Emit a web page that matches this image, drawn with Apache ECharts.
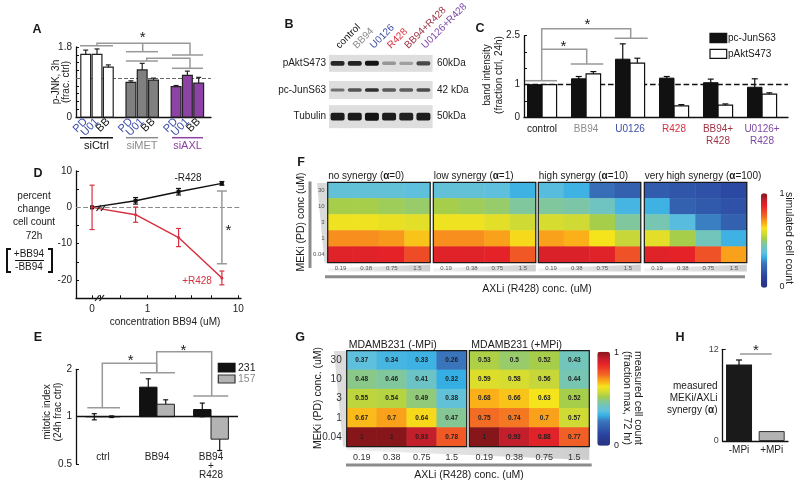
<!DOCTYPE html>
<html><head><meta charset="utf-8">
<script src="https://cdn.jsdelivr.net/npm/echarts@6/dist/echarts.min.js"></script>
<style>html,body{margin:0;padding:0;background:#fff}#c{width:800px;height:488px}</style>
</head><body><div id="c"></div>
<script>
// ================= DATA =================
const A_groups = ['siCtrl','siMET','siAXL'];
const A_treatments = ['PD','U01','BB'];
const A_values = [1.61,1.61,1.28, 0.89,1.21,0.95, 0.78,1.07,0.87];
const A_errors = [0.11,0.14,0.06, 0.04,0.17,0.05, 0.03,0.11,0.15];

const B_lanes = ['control','BB94','U0126','R428','BB94+R428','U0126+R428'];
const B_proteins = ['pAktS473','pc-JunS63','Tubulin'];
const B_sizes = ['60kDa','42 kDa','50kDa'];
const B_pAkt = [0.9,0.92,1.0,0.3,0.25,0.72];
const B_pcJun = [0.5,0.65,0.85,0.62,0.6,0.7];
const B_tubulin = [0.95,0.97,1.0,0.95,0.93,0.95];

const C_categories = ['control','BB94','U0126','R428','BB94+\nR428','U0126+\nR428'];
const C_series = ['pc-JunS63','pAktS473'];
const C_pcJun = [1.0,1.18,1.78,1.2,1.06,0.92];
const C_pcJunErr = [0,0.07,0.47,0.05,0.11,0.26];
const C_pAkt = [1.0,1.33,1.66,0.35,0.37,0.71];
const C_pAktErr = [0,0.07,0.15,0.04,0.04,0.04];

const D_conc = [0,0.74,2.2,6.6];
const D_minusR428 = [0,1.8,4.3,6.6];
const D_minusErr = [0,0.9,0.9,0.5];
const D_plusR428 = [0,-2.0,-8.3,-19.4];
const D_plusErr = [6.1,2.1,2.5,1.9];
const D_sigBar = [6.6,-15.5,4.5];
const D_xTickLabels = ['0','1','10'];

const E_categories = ['ctrl','BB94','BB94\n+\nR428'];
const E_series = ['231','157'];
const E_231 = [1.0,1.54,1.11];
const E_231err = [0.045,0.2,0.11];
const E_157 = [1.0,1.2,0.72];
const E_157err = [0.012,0.08,0.11];

const F_meki = ['30','10','3','1','0.04'];
const F_axli = ['0.19','0.38','0.75','1.5'];
const F_names = ['no synergy','low synergy','high synergy','very high synergy'];
const F_alpha = ['0','1','10','100'];
const F_noSynergy = [[0.38,0.38,0.38,0.37],[0.52,0.52,0.51,0.5],[0.62,0.62,0.61,0.6],[0.72,0.72,0.71,0.66],[0.88,0.88,0.87,0.8]];
const F_lowSynergy = [[0.38,0.38,0.37,0.33],[0.52,0.51,0.5,0.46],[0.62,0.62,0.6,0.57],[0.72,0.72,0.7,0.64],[0.88,0.88,0.87,0.78]];
const F_highSynergy = [[0.36,0.33,0.24,0.2],[0.46,0.45,0.42,0.34],[0.58,0.57,0.52,0.46],[0.7,0.68,0.63,0.56],[0.89,0.89,0.88,0.79]];
const F_veryHighSynergy = [[0.19,0.17,0.16,0.13],[0.33,0.2,0.18,0.16],[0.44,0.36,0.27,0.2],[0.6,0.52,0.43,0.33],[0.88,0.87,0.79,0.7]];

const G_meki = ['30','10','3','1','0.04'];
const G_axli = ['0.19','0.38','0.75','1.5'];
const G_titles = ['MDAMB231 (-MPi)','MDAMB231 (+MPi)'];
const G_minusMPi = [[0.37,0.34,0.33,0.26],[0.48,0.46,0.41,0.32],[0.55,0.54,0.49,0.38],[0.67,0.7,0.64,0.47],[1,1,0.93,0.78]];
const G_plusMPi = [[0.53,0.5,0.52,0.43],[0.59,0.58,0.56,0.44],[0.68,0.66,0.63,0.52],[0.75,0.74,0.7,0.57],[1,0.93,0.88,0.77]];

const H_categories = ['-MPi','+MPi'];
const H_values = [10.0,1.3];
const H_errors = [0.6,0];

// ================= STYLE / LAYOUT =================
const FONT = 'Liberation Sans, Arial, Helvetica, sans-serif';
const BLUE = '#3d4ea6', RED = '#d7303f', DKRED = '#9e3346', PURPLE = '#7e48a5', GRAYT = '#8c8c8c', AXLP = '#8d43a3';
const TXT = '#1a1a1a';
const JET_STOPS = [[0,'#27307f'],[0.12,'#2a44a0'],[0.26,'#3a75bb'],[0.32,'#35aee4'],[0.37,'#5fc0dd'],[0.43,'#72c5bb'],[0.48,'#8ac88a'],[0.52,'#a6ce4a'],[0.58,'#d7dc30'],[0.63,'#f5e31c'],[0.68,'#fbb019'],[0.71,'#f8991c'],[0.75,'#f26c24'],[0.8,'#ee4b27'],[0.87,'#e62229'],[0.93,'#c11f2b'],[1,'#861619']];
function hex2rgb(h){return [1,3,5].map(i=>parseInt(h.substr(i,2),16));}
const JET=[];
for(let k=0;k<=100;k++){const t=k/100;let j=0;while(j<JET_STOPS.length-2&&t>JET_STOPS[j+1][0])j++;
 const [t0,c0]=JET_STOPS[j],[t1,c1]=JET_STOPS[j+1];const f=(t-t0)/(t1-t0);const a=hex2rgb(c0),b=hex2rgb(c1);
 JET.push('rgb('+a.map((x,i)=>Math.round(x+(b[i]-x)*f)).join(',')+')');}

const F_left = [327.7,433.3,538.3,644.3], F_top = 182.3, F_w = 102.5, F_h = 80.4;
const G_left = [346.7,469.3], G_top = 350.7, G_w = 120, G_h = 96;

const gridDefs = [
 {left:76, top:47, width:135, height:70},
 {left:329, top:50, width:103, height:80},
 {left:524, top:35.7, width:264, height:81.6},
 {left:76, top:171, width:165, height:127.3},
 {left:76, top:369.3, width:162, height:94.8},
 ...F_left.map(l=>({left:l, top:F_top, width:F_w, height:F_h})),
 ...G_left.map(l=>({left:l, top:G_top, width:G_w, height:G_h})),
 {left:722.7, top:349.3, width:65.3, height:91.7}
].map(g=>Object.assign({containLabel:false, outerBoundsMode:'none', show:false}, g));

const axLine = {show:true, onZero:false, lineStyle:{color:'#111', width:1.3}};
const noLine = {show:false, onZero:false};
const lab = (o)=>Object.assign({fontSize:10, color:'#222', fontFamily:FONT, showMinLabel:true, showMaxLabel:true, hideOverlap:false}, o||{});

// positions
const A_XMAX = 11.95;
const A_pos = A_values.map((_,i)=>0.86 + 4*Math.floor(i/3) + i%3);
const C_pos = C_categories.map((_,i)=>0.41 + i);
const D_ZERO = -0.61;
const D_pos = c => c===0 ? D_ZERO : Math.log10(c);

// ================= HELPERS =================
function barSeries(xi, yi, data, opt){
  return {type:'custom', xAxisIndex:xi, yAxisIndex:yi, data, z:opt.z||3, silent:true, encode:{x:0,y:1},
    renderItem:(p,api)=>{const x=api.value(0), v=api.value(1);
      const t=api.coord([x,v]), b=api.coord([x,opt.base||0]); const cx=t[0]+(opt.offset||0);
      return {type:'rect', shape:{x:cx-opt.width/2, y:Math.min(t[1],b[1]), width:opt.width, height:Math.abs(b[1]-t[1])},
        style:{fill:Array.isArray(opt.fill)?opt.fill[p.dataIndex]:opt.fill, stroke:opt.stroke||null, lineWidth:opt.lw||1}};},
    markLine: opt.markLine};
}
function errSeries(xi, yi, data, color, offset, cap, lw, z){
  return {type:'custom', xAxisIndex:xi, yAxisIndex:yi, data, z:z||2, silent:true, encode:{x:0,y:[1,2]},
    renderItem:(p,api)=>{const x=api.value(0), lo=api.value(1), hi=api.value(2);
      if(lo===hi) return null;
      const a=api.coord([x,lo]), b=api.coord([x,hi]); const cx=a[0]+(offset||0); const st={stroke:color, lineWidth:lw||1};
      return {type:'group', children:[
        {type:'line', shape:{x1:cx,y1:a[1],x2:cx,y2:b[1]}, style:st},
        {type:'line', shape:{x1:cx-cap,y1:a[1],x2:cx+cap,y2:a[1]}, style:st},
        {type:'line', shape:{x1:cx-cap,y1:b[1],x2:cx+cap,y2:b[1]}, style:st}]};}};
}
const GR = [];
function txt(x,y,text,o){o=o||{};GR.push({type:'text', x, y, rotation:o.rot||0, z:100, silent:true,
  style:{text, fill:o.color||TXT, fontSize:o.size||10, fontFamily:FONT, fontWeight:o.bold?'bold':'normal',
  align:o.align||'center', verticalAlign:o.va||'middle', lineHeight:o.lh, rich:o.rich}});}
function pl(points,color,w){GR.push({type:'polyline', z:100, silent:true, shape:{points}, style:{stroke:color||'#999', lineWidth:w||1.5, fill:null}});}
function rc(x,y,w,h,fill,stroke,z){GR.push({type:'rect', z:z===undefined?100:z, silent:true, shape:{x,y,width:w,height:h}, style:{fill:fill||null, stroke:stroke||null, lineWidth:1.2}});}
function pg(points,fill,z){GR.push({type:'polygon', z:z===undefined?-1:z, silent:true, shape:{points}, style:{fill}});}
const SIG = '#999';

// ================= AXES =================
const xAxis = [], yAxis = [];
// A (x0,y0)  -- blank labels at both ends keep every real label visible
xAxis.push({gridIndex:0, type:'value', min:0, max:A_XMAX, axisLine:axLine, axisTick:{show:false}, splitLine:{show:false},
  axisLabel:{customValues:[0,...A_pos,A_XMAX], rotate:45, margin:3, showMinLabel:true, showMaxLabel:true, hideOverlap:false,
    formatter:v=>{const i=A_pos.findIndex(p=>Math.abs(p-v)<1e-6); if(i<0) return ''; return `{${i%3===2?'k':'b'}|${A_treatments[i%3]}}`;},
    rich:{b:{color:BLUE,fontSize:11,fontFamily:FONT}, k:{color:'#111',fontSize:11,fontFamily:FONT}}}});
yAxis.push({gridIndex:0, type:'value', min:0, max:1.8, interval:0.2, axisLine:axLine, splitLine:{show:false},
  axisTick:{show:true, inside:true, length:3, lineStyle:{color:'#111'}},
  axisLabel:lab({margin:4, formatter:v=>v===0?'0':(Math.abs(v-1.8)<1e-6?'1.8':'')})});
// B (x1,y1,y2)
xAxis.push({gridIndex:1, type:'category', data:B_lanes, position:'top', axisLine:noLine, axisTick:{show:false},
  axisLabel:{rotate:-45, margin:3, interval:0, hideOverlap:false, formatter:(v,i)=>`{c${i}|${v}}`,
    rich:Object.fromEntries(['#111','#8c8c8c',BLUE,RED,DKRED,PURPLE].map((c,i)=>['c'+i,{color:c,fontSize:10,fontFamily:FONT}]))}});
yAxis.push({gridIndex:1, type:'category', data:B_proteins, inverse:true, axisLine:noLine, axisTick:{show:false}, axisLabel:lab({margin:3, interval:0})});
yAxis.push({gridIndex:1, type:'category', data:B_sizes, inverse:true, position:'right', axisLine:noLine, axisTick:{show:false}, axisLabel:lab({margin:5, interval:0})});
// C (x2,y3)
const C_cols = ['#111','#8c8c8c',BLUE,RED,DKRED,PURPLE];
xAxis.push({gridIndex:2, type:'value', min:0, max:6, axisLine:axLine, axisTick:{show:false}, splitLine:{show:false},
  axisLabel:{customValues:C_pos, margin:6, showMinLabel:true, showMaxLabel:true, hideOverlap:false,
    formatter:v=>{const i=C_pos.findIndex(p=>Math.abs(p-v)<1e-6); if(i<0) return ''; return C_categories[i].split('\n').map(s=>`{c${i}|${s}}`).join('\n');},
    rich:Object.fromEntries(C_cols.map((c,i)=>['c'+i,{color:c,fontSize:10,fontFamily:FONT,lineHeight:12}]))}});
yAxis.push({gridIndex:2, type:'value', min:0, max:2.5, interval:0.5, axisLine:axLine, splitLine:{show:false},
  axisTick:{show:true, inside:true, length:3, lineStyle:{color:'#111'}},
  axisLabel:lab({margin:4, formatter:v=>(v===0||v===1||v===2.5)?String(v):''})});
// D (x3,y4)
xAxis.push({gridIndex:3, type:'value', min:-0.787, max:1.03, axisLine:axLine, splitLine:{show:false},
  axisTick:{show:true, inside:true, length:3, customValues:[D_ZERO,Math.log10(0.3),Math.log10(0.5),0,Math.log10(2),Math.log10(3),Math.log10(5),1], lineStyle:{color:'#111'}},
  axisLabel:lab({customValues:[D_ZERO,0,1], margin:6, formatter:v=>v<-0.3?D_xTickLabels[0]:(v<0.5?D_xTickLabels[1]:D_xTickLabels[2])})});
yAxis.push({gridIndex:3, type:'value', min:-25, max:10, interval:5, axisLine:axLine, splitLine:{show:false},
  axisTick:{show:true, inside:true, length:3, lineStyle:{color:'#111'}},
  axisLabel:lab({margin:4, formatter:v=>v%10===0?String(v):''})});
// E (x4,y5)
xAxis.push({gridIndex:4, type:'category', data:E_categories, axisLine:noLine, axisTick:{show:false},
  axisLabel:lab({margin:-11, lineHeight:9, interval:0})});
yAxis.push({gridIndex:4, type:'value', min:-1, max:1, axisLine:axLine, splitLine:{show:false},
  axisTick:{show:true, inside:true, length:3, customValues:[-1,0,1], lineStyle:{color:'#111'}},
  axisLabel:lab({customValues:[-1,0,1], margin:4, formatter:v=>String(Math.pow(2,v))})});
// F (x5-8, y6-9)
F_left.forEach((l,k)=>{
  xAxis.push({gridIndex:5+k, type:'category', data:F_axli, axisLine:noLine, axisTick:{show:false}, axisLabel:lab({fontSize:6, color:'#555', margin:3, interval:0})});
  yAxis.push({gridIndex:5+k, type:'category', data:F_meki, inverse:true, axisLine:noLine, axisTick:{show:false}, axisLabel:lab({show:k===0, fontSize:6, color:'#555', margin:3, interval:0})});
});
// G (x9-10, y10-11)
G_left.forEach((l,k)=>{
  xAxis.push({gridIndex:9+k, type:'category', data:G_axli, axisLine:noLine, axisTick:{show:false}, axisLabel:lab({fontSize:9, color:'#333', margin:6, interval:0})});
  yAxis.push({gridIndex:9+k, type:'category', data:G_meki, inverse:true, axisLine:noLine, axisTick:{show:false}, axisLabel:lab({show:k===0, fontSize:10, color:'#333', margin:5, interval:0})});
});
// H (x11, y12)
xAxis.push({gridIndex:11, type:'category', data:H_categories, axisLine:axLine, axisTick:{show:false}, axisLabel:lab({margin:4, interval:0})});
yAxis.push({gridIndex:11, type:'value', min:0, max:12, interval:12, axisLine:axLine, splitLine:{show:false},
  axisTick:{show:true, inside:true, length:3, lineStyle:{color:'#111'}}, axisLabel:lab({fontSize:9, color:'#444', margin:4})});

// ================= SERIES =================
const series = [];
const mlDash = (y,color,w)=>({silent:true, symbol:'none', z:1, label:{show:false}, lineStyle:{type:'dashed', color, width:w}, data:[{yAxis:y}]});
// A
series.push(Object.assign(errSeries(0,0,A_values.map((v,i)=>[A_pos[i], v-A_errors[i], v+A_errors[i]]), '#222', 0, 2.5, 1.2, 2),
  {markLine: mlDash(1,'#666',1)}));
series.push(barSeries(0,0,A_values.map((v,i)=>[A_pos[i],v]), {width:9.8, fill:A_values.map((_,i)=>['#ffffff','#808080',AXLP][Math.floor(i/3)]), stroke:'#222', lw:1.2}));
// B
const B_data = [];
[B_pAkt,B_pcJun,B_tubulin].forEach((arr,r)=>arr.forEach((v,l)=>B_data.push([l,r,v])));
series.push({type:'custom', xAxisIndex:1, yAxisIndex:1, data:B_data, silent:true,
  renderItem:(p,api)=>{const l=api.value(0), r=api.value(1), v=api.value(2);
    const c=api.coord([l,r]); const cw=api.size([1,1])[0];
    const bgH=[17,18,23][r], bandH=[5,4,8][r]*(0.55+0.45*v); const s=Math.round(205-185*v);
    return {type:'group', children:[
      {type:'rect', shape:{x:c[0]-cw/2, y:c[1]-bgH/2, width:cw+0.6, height:bgH}, style:{fill:'#dedede'}},
      {type:'rect', shape:{x:c[0]-7, y:c[1]-bandH/2, width:14, height:bandH, r:2}, style:{fill:`rgb(${s},${s},${s})`}}]};}});
// C
series.push(Object.assign(errSeries(2,3,C_pcJun.map((v,i)=>[C_pos[i], v-C_pcJunErr[i], v+C_pcJunErr[i]]), '#111', -7.3, 3, 1.2, 2),
  {markLine: mlDash(1,'#111',1.4)}));
series.push(errSeries(2,3,C_pAkt.map((v,i)=>[C_pos[i], v-C_pAktErr[i], v+C_pAktErr[i]]), '#111', 7.3, 3, 1.2, 2));
series.push(barSeries(2,3,C_pcJun.map((v,i)=>[C_pos[i],v]), {width:14.5, offset:-7.3, fill:'#111', stroke:'#111', lw:1}));
series.push(barSeries(2,3,C_pAkt.map((v,i)=>[C_pos[i],v]), {width:14.5, offset:7.3, fill:'#fff', stroke:'#111', lw:1.2}));
// D
series.push(errSeries(3,4,[[D_pos(D_sigBar[0]), D_sigBar[1], D_sigBar[2]]], '#999', 0, 5, 1.5, 2));
series.push(Object.assign(errSeries(3,4,D_conc.map((c,i)=>[D_pos(c), D_minusR428[i]-D_minusErr[i], D_minusR428[i]+D_minusErr[i]]), '#111', 0, 2.5, 1.2, 4),
  {markLine: mlDash(0,'#888',1.2)}));
series.push(errSeries(3,4,D_conc.map((c,i)=>[D_pos(c), D_plusR428[i]-D_plusErr[i], D_plusR428[i]+D_plusErr[i]]), RED, 0, 2.5, 1.2, 4));
series.push({type:'line', xAxisIndex:3, yAxisIndex:4, name:'-R428', data:D_conc.map((c,i)=>[D_pos(c), D_minusR428[i]]), symbol:'rect', symbolSize:4, silent:true,
  itemStyle:{color:'#111'}, lineStyle:{color:'#111', width:1.5}, z:5});
series.push({type:'line', xAxisIndex:3, yAxisIndex:4, name:'+R428', data:D_conc.map((c,i)=>[D_pos(c), D_plusR428[i]]), symbol:'circle', symbolSize:3, silent:true,
  itemStyle:{color:RED}, lineStyle:{color:RED, width:1.5}, z:5});
// E
const l2 = Math.log2;
series.push(errSeries(4,5,E_231.map((v,i)=>[i, l2(v-E_231err[i]), l2(v+E_231err[i])]), '#111', -8.7, 2.5, 1.2, 2));
series.push(errSeries(4,5,E_157.map((v,i)=>[i, l2(v-E_157err[i]), l2(v+E_157err[i])]), '#111', 8.7, 2.5, 1.2, 2));
series.push(barSeries(4,5,E_231.map((v,i)=>[i,l2(v)]), {width:17.4, offset:-8.7, fill:'#111', stroke:'#111', lw:1}));
series.push(barSeries(4,5,E_157.map((v,i)=>[i,l2(v)]), {width:17.4, offset:8.7, fill:'#b3b3b3', stroke:'#222', lw:1,
  markLine:{silent:true, symbol:'none', z:10, label:{show:false}, lineStyle:{type:'solid', color:'#111', width:1.4}, data:[{yAxis:0}]}}));
// F heatmaps
function heat(xi, yi, rows, withLabels){
  return {type:'heatmap', xAxisIndex:xi, yAxisIndex:yi, silent:true,
    data: rows.flatMap((row,r)=>row.map((v,c)=>[c,r,v])), itemStyle:{borderWidth:0}, emphasis:{disabled:true},
    label: withLabels?{show:true, fontSize:6.5, fontWeight:'bold', color:'#222', fontFamily:FONT, formatter:p=>String(p.value[2])}:{show:false}};
}
const F_idx = [], G_idx = [];
[F_noSynergy,F_lowSynergy,F_highSynergy,F_veryHighSynergy].forEach((rows,k)=>{F_idx.push(series.length); series.push(heat(5+k,6+k,rows,false));});
[G_minusMPi,G_plusMPi].forEach((rows,k)=>{G_idx.push(series.length); series.push(heat(9+k,10+k,rows,true));});
// H
series.push(errSeries(11,12,H_values.map((v,i)=>[i, v-H_errors[i], v+H_errors[i]]), '#111', 0, 3, 1.2, 2));
series.push({type:'bar', xAxisIndex:11, yAxisIndex:12, barWidth:26, silent:true, z:3,
  data:H_values.map((v,i)=>({value:v, itemStyle:i===0?{color:'#1a1a1a'}:{color:'#b3b3b3', borderColor:'#333', borderWidth:1}}))});

// ================= ANNOTATIONS =================
[['A',37,30],['B',289,25],['C',480,29],['D',38,174],['E',38,338],['F',301,163],['G',300,338],['H',680,338]].forEach(([t,x,y])=>txt(x,y,t,{bold:true,size:12.5}));
// A
txt(61.5,82,'p-JNK, 3h\n(frac. ctrl)',{rot:Math.PI/2, lh:10});
pl([[80,45.7],[113,45.7]],SIG); pl([[126,51.7],[158,51.7]],SIG); pl([[172,55],[203,55]],SIG);
pl([[97,45.7],[97,43.3],[190,43.3],[190,55]],SIG); pl([[142.7,43.3],[142.7,51.7]],SIG);
pl([[126,61],[158,61]],SIG); pl([[172,68.3],[203,68.3]],SIG); pl([[146.7,61],[146.7,58.3],[190,58.3],[190,68.3]],SIG);
txt(142.7,38,'*',{size:15});
const A_gcol = ['#111',GRAYT,AXLP];
[[80,113],[126,158],[172,203]].forEach(([a,b],g)=>{pl([[a,137.7],[b,137.7]],A_gcol[g],1.5); txt((a+b)/2,146,A_groups[g],{size:11,color:A_gcol[g]});});
// C
txt(493.5,75,'band intensity\n(fraction ctrl, 24h)',{rot:Math.PI/2, lh:11.6});
rc(710,33.3,16.7,9.4,'#111','#111'); rc(710,49.3,16.7,9,'#fff','#111');
txt(728,38,C_series[0],{align:'left'}); txt(728,54,C_series[1],{align:'left'});
pl([[525,80.7],[557,80.7]],SIG); pl([[541.7,80.7],[541.7,28.7],[630.7,28.7],[630.7,38.3]],SIG);
pl([[541.7,49.3],[586.7,49.3],[586.7,64]],SIG); pl([[570.7,64],[603.3,64]],SIG); pl([[614.7,38.3],[647.7,38.3]],SIG);
txt(563.3,47,'*',{size:15}); txt(587.3,25,'*',{size:15});
// D
txt(34,216,'percent\nchange\ncell count\n72h',{lh:13.3});
txt(29,254,'+BB94'); txt(29,267,'-BB94'); pl([[15,260.5],[44,260.5]],'#111',1);
pl([[11,249],[7,249],[7,272],[11,272]],'#111',2); pl([[48,249],[52,249],[52,272],[48,272]],'#111',2);
txt(165,322,'concentration BB94 (uM)');
txt(188,178,'-R428'); txt(197,281,'+R428',{color:RED});
txt(228.5,231,'*',{size:15});
pl([[95,301],[99.5,295]],'#222',1.2); pl([[99.5,301],[104,295]],'#222',1.2);
pl([[96.5,211],[101,205]],'#222',1.2); pl([[101,211],[105.5,205]],'#222',1.2);
// E
txt(53,412,'mitotic index\n(24h frac ctrl)',{rot:Math.PI/2, lh:11});
rc(218.3,363.3,16.7,8.6,'#111','#111'); rc(218.3,375,16.7,8,'#b3b3b3','#333');
txt(238,367.7,E_series[0],{align:'left',size:10.5}); txt(238,379,E_series[1],{align:'left',size:10.5,color:GRAYT});
pl([[87.3,407.7],[120,407.7]],SIG); pl([[102.3,407.7],[102.3,363.3],[156.7,363.3],[156.7,372.7]],SIG); pl([[140,372.7],[175,372.7]],SIG);
pl([[156.7,372.7],[156.7,351.7],[211.7,351.7],[211.7,396]],SIG); pl([[193.3,396],[228.3,396]],SIG);
txt(130.7,361,'*',{size:15}); txt(183.3,350.5,'*',{size:15});
// F
const richA = {n:{fontSize:10,fontFamily:FONT,fill:TXT}, b:{fontSize:10,fontFamily:FONT,fontWeight:'bold',fill:TXT}};
F_left.forEach((l,k)=>{
  txt(l+0.5,176.7,`{n|${F_names[k]} (}{b|α}{n|=${F_alpha[k]})}`,{align:'left', rich:richA});
  rc(l,F_top,F_w,F_h,null,'#1a1a1a');
  GR.push({type:'polygon', z:-1, silent:true, shape:{points:[[l,268.5],[l+F_w,264.5],[l+F_w,271.5],[l,271.5]]},
    style:{fill:{type:'linear',x:0,y:0,x2:1,y2:0,colorStops:[{offset:0,color:'#f2f2f2'},{offset:1,color:'#cfcfcf'}]}}});
});
pg([[317,183],[327,183],[327,262.7],[324.5,262.7]],'#dadada');
rc(308.5,181.5,3,86.5,'#8c8c8c',null);
rc(325,275.3,420,3,'#8c8c8c',null);
txt(301,222,'MEKi (PD) conc (uM)',{rot:Math.PI/2, size:10.5});
txt(537,289,'AXLi (R428) conc. (uM)',{size:10.5});
txt(779.5,193.5,'1',{align:'left',size:9}); txt(779.5,286.7,'0',{align:'left',size:9});
txt(789,238,'simulated cell count',{rot:-Math.PI/2, size:10.5});
// G
G_left.forEach((l,k)=>{
  txt(l+2,345.3,G_titles[k],{align:'left',size:10.5});
  rc(l,G_top,G_w,G_h,null,'#1a1a1a');
});
GR.push({type:'polygon', z:-1, silent:true, shape:{points:[[346.7,447],[589.3,447],[589.3,460],[346.7,450]]},
  style:{fill:{type:'linear',x:0,y:0,x2:1,y2:0,colorStops:[{offset:0,color:'#f2f2f2'},{offset:1,color:'#cdcdcd'}]}}});
pg([[334,351],[346.7,351],[346.7,446.7],[343,446.7]],'#dcdcdc');
rc(346,463.5,245.7,3,'#8c8c8c',null);
txt(318,398,'MEKi (PD) conc. (uM)',{rot:Math.PI/2, size:10.5});
txt(469,475.5,'AXLi (R428) conc. (uM)',{size:10.5});
txt(614,352.5,'1',{align:'left',size:9}); txt(614,445.5,'0',{align:'left',size:9});
txt(632.5,398,'measured cell count\n(fraction max, 72 hr)',{rot:-Math.PI/2, size:10.5, lh:10.5});
// H
txt(717.5,398,'{n|measured}\n{n|MEKi/AXLi}\n{n|synergy (}{b|α}{n|)}',{align:'right',
  rich:{n:{fontSize:10,fontFamily:FONT,fill:TXT,lineHeight:12}, b:{fontSize:10,fontFamily:FONT,fontWeight:'bold',fill:TXT,lineHeight:12}}});
pl([[740,354],[771.7,354]],SIG); txt(756,351,'*',{size:15});

// ================= CHART =================
const chart = echarts.init(document.getElementById('c'), null, {renderer:'canvas'});
chart.setOption({
  animation:false, backgroundColor:'#fff', textStyle:{fontFamily:FONT},
  grid:gridDefs, xAxis, yAxis, series,
  visualMap:[
    {type:'continuous', min:0, max:1, seriesIndex:F_idx, left:761, top:193.3, itemWidth:6.3, itemHeight:94.4, calculable:false, padding:0, showLabel:false, hoverLink:false, inRange:{color:JET}},
    {type:'continuous', min:0, max:1, seriesIndex:G_idx, left:597.3, top:351.7, itemWidth:12.7, itemHeight:94, calculable:false, padding:0, showLabel:false, hoverLink:false, inRange:{color:JET}}
  ],
  graphic:{elements:GR}
});
</script>
</body></html>
